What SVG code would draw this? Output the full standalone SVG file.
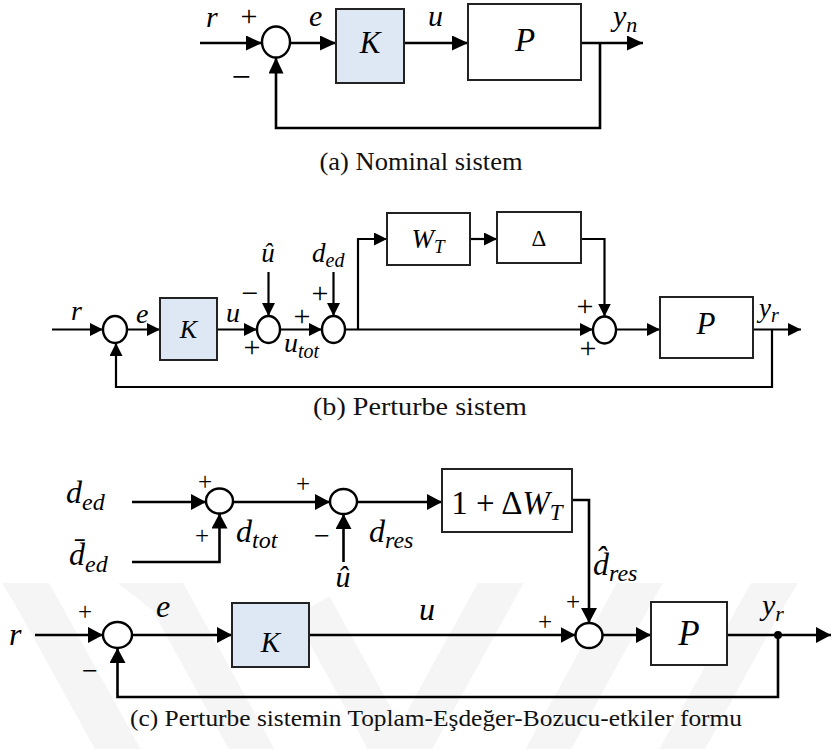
<svg xmlns="http://www.w3.org/2000/svg" width="831" height="749" viewBox="0 0 831 749">
  <style>
    .ln { fill: none; stroke: #000; stroke-width: 2.6; }
    .lnb { fill: none; stroke: #000; stroke-width: 2.2; }
    .blk { fill: #fff; stroke: #222; stroke-width: 2; }
    .ctl { fill: #dde8f4; stroke: #222; stroke-width: 2; }
    .sum { fill: #fff; stroke: #000; stroke-width: 2.4; }
    .m { font-family: "Liberation Serif", "DejaVu Serif", serif; font-style: italic; fill: #000; }
    .up { font-family: "Liberation Serif", "DejaVu Serif", serif; font-style: normal; fill: #000; }
    .sg { font-family: "Liberation Serif", "DejaVu Serif", serif; fill: #000; text-anchor: middle; }
    .cap { font-family: "Liberation Serif", "Times New Roman", serif; fill: #111; }
    .wm { fill: none; stroke: #f5f5f5; stroke-width: 40; }
  </style>
  <defs>
    <marker id="arA" viewBox="0 0 10 10" refX="10" refY="5" markerWidth="16" markerHeight="15" markerUnits="userSpaceOnUse" orient="auto" preserveAspectRatio="none">
      <path d="M0,0 L10,5 L0,10 z" fill="#000"/>
    </marker>
    <marker id="arB" viewBox="0 0 10 10" refX="10" refY="5" markerWidth="13" markerHeight="13" markerUnits="userSpaceOnUse" orient="auto" preserveAspectRatio="none">
      <path d="M0,0 L10,5 L0,10 z" fill="#000"/>
    </marker>
    <marker id="arC" viewBox="0 0 10 10" refX="10" refY="5" markerWidth="15" markerHeight="16" markerUnits="userSpaceOnUse" orient="auto" preserveAspectRatio="none">
      <path d="M0,0 L10,5 L0,10 z" fill="#000"/>
    </marker>
    <clipPath id="wmClip">
      <rect x="0" y="583" width="831" height="166"/>
    </clipPath>
  </defs>

  <rect width="831" height="749" fill="#fff"/>

  <!-- faint chevron watermark behind the lower diagram -->
  <g id="watermark" clip-path="url(#wmClip)">
    <polyline class="wm" points="312,606 400,766 488,606 581,437"/>
    <polyline class="wm" points="20,480 168,597 400,1019 632,597 780,330"/>
    <polyline class="wm" points="-100,380 34,597 400,1262 766,597 900,380"/>
  </g>

  <!-- ===================== (a) nominal loop ===================== -->
  <g id="a-connectors">
    <line class="ln" x1="200" y1="43" x2="262" y2="43" marker-end="url(#arA)"/>
    <line class="ln" x1="290" y1="43" x2="336" y2="43" marker-end="url(#arA)"/>
    <line class="ln" x1="404" y1="43" x2="468" y2="43" marker-end="url(#arA)"/>
    <line class="ln" x1="581" y1="43" x2="643" y2="43" marker-end="url(#arA)"/>
    <path class="ln" d="M600,43 V128 H276 V57.5" marker-end="url(#arA)"/>
  </g>
  <g id="a-sum">
    <ellipse class="sum" cx="276" cy="42" rx="14" ry="15.5"/>
    <text class="sg" x="249" y="26" font-size="30">+</text>
    <text class="sg" x="241" y="88" font-size="34">−</text>
  </g>
  <g id="a-K">
    <rect class="ctl" x="336" y="9" width="68" height="74"/>
    <text class="m" x="370" y="53" font-size="31" text-anchor="middle">K</text>
  </g>
  <g id="a-P">
    <rect class="blk" x="468" y="4" width="113" height="76"/>
    <text class="m" x="525" y="51" font-size="33" text-anchor="middle">P</text>
  </g>
  <g id="a-labels">
    <text class="m" x="206" y="27" font-size="30">r</text>
    <text class="m" x="309" y="26" font-size="30">e</text>
    <text class="m" x="428" y="26" font-size="30">u</text>
    <text class="m" x="613" y="26" font-size="30">y<tspan font-size="22" dy="6">n</tspan></text>
  </g>
  <text class="cap" x="421" y="170" font-size="26" text-anchor="middle" textLength="203" lengthAdjust="spacingAndGlyphs">(a) Nominal sistem</text>

  <!-- ===================== (b) perturbed loop ===================== -->
  <g id="b-connectors">
    <line class="lnb" x1="52" y1="329.5" x2="103" y2="329.5" marker-end="url(#arB)"/>
    <line class="lnb" x1="127" y1="329.5" x2="160" y2="329.5" marker-end="url(#arB)"/>
    <line class="lnb" x1="217" y1="329.5" x2="257" y2="329.5" marker-end="url(#arB)"/>
    <line class="lnb" x1="268.5" y1="272" x2="268.5" y2="316" marker-end="url(#arB)"/>
    <line class="lnb" x1="280" y1="329.5" x2="322" y2="329.5" marker-end="url(#arB)"/>
    <line class="lnb" x1="333.5" y1="272" x2="333.5" y2="316" marker-end="url(#arB)"/>
    <line class="lnb" x1="345" y1="329.5" x2="593" y2="329.5" marker-end="url(#arB)"/>
    <path class="lnb" d="M358,329.5 V239 H387" marker-end="url(#arB)"/>
    <line class="lnb" x1="470" y1="239" x2="497" y2="239" marker-end="url(#arB)"/>
    <path class="lnb" d="M581,239 H604.5 V316.5" marker-end="url(#arB)"/>
    <line class="lnb" x1="616" y1="329.5" x2="660" y2="329.5" marker-end="url(#arB)"/>
    <line class="lnb" x1="753" y1="329.5" x2="801" y2="329.5" marker-end="url(#arB)"/>
    <path class="lnb" d="M772,329.5 V387 H116 V343" marker-end="url(#arB)"/>
  </g>
  <g id="b-sum1">
    <ellipse class="sum" cx="115" cy="329.5" rx="12" ry="13.5"/>
  </g>
  <g id="b-K">
    <rect class="ctl" x="160" y="298" width="57" height="62"/>
    <text class="m" x="188.5" y="338" font-size="26" text-anchor="middle">K</text>
  </g>
  <g id="b-sum2">
    <ellipse class="sum" cx="268.5" cy="329.5" rx="11.5" ry="13.5"/>
    <text class="sg" x="250" y="303" font-size="30">−</text>
    <text class="sg" x="252" y="357" font-size="30">+</text>
  </g>
  <g id="b-sum3">
    <ellipse class="sum" cx="333.5" cy="329.5" rx="11.5" ry="13.5"/>
    <text class="sg" x="302" y="326" font-size="30">+</text>
    <text class="sg" x="320" y="303" font-size="30">+</text>
  </g>
  <g id="b-WT">
    <rect class="blk" x="387" y="213" width="83" height="52"/>
    <text class="m" x="428" y="248" font-size="27" text-anchor="middle">W<tspan font-size="19" dy="5">T</tspan></text>
  </g>
  <g id="b-Delta">
    <rect class="blk" x="497" y="212" width="84" height="51"/>
    <text class="up" x="539" y="246" font-size="23" text-anchor="middle">Δ</text>
  </g>
  <g id="b-sum4">
    <ellipse class="sum" cx="604.5" cy="330" rx="11.5" ry="13.5"/>
    <text class="sg" x="585" y="316" font-size="30">+</text>
    <text class="sg" x="588" y="358" font-size="30">+</text>
  </g>
  <g id="b-P">
    <rect class="blk" x="660" y="297" width="93" height="61"/>
    <text class="m" x="706" y="334" font-size="31" text-anchor="middle">P</text>
  </g>
  <g id="b-labels">
    <text class="m" x="71" y="320" font-size="28">r</text>
    <text class="m" x="136" y="323" font-size="28">e</text>
    <text class="m" x="226" y="322" font-size="28">u</text>
    <text class="m" x="268" y="262" font-size="27" text-anchor="middle">û</text>
    <text class="m" x="312" y="262" font-size="27">d<tspan font-size="20" dy="5">ed</tspan></text>
    <text class="m" x="284" y="352" font-size="28">u<tspan font-size="20" dy="6">tot</tspan></text>
    <text class="m" x="759" y="317" font-size="27">y<tspan font-size="20" dy="5">r</tspan></text>
  </g>
  <text class="cap" x="420" y="415" font-size="26" text-anchor="middle" textLength="214" lengthAdjust="spacingAndGlyphs">(b) Perturbe sistem</text>

  <!-- ===================== (c) total equivalent disturbance form ===================== -->
  <g id="c-connectors">
    <line class="ln" x1="132" y1="502" x2="206" y2="502" marker-end="url(#arC)"/>
    <path class="ln" d="M132,562 H219.5 V513.5" marker-end="url(#arC)"/>
    <line class="ln" x1="233" y1="502" x2="330" y2="502" marker-end="url(#arC)"/>
    <line class="ln" x1="343.5" y1="562" x2="343.5" y2="514" marker-end="url(#arC)"/>
    <line class="ln" x1="357" y1="502" x2="442" y2="502" marker-end="url(#arC)"/>
    <path class="ln" d="M572,500 H589 V623" marker-end="url(#arC)"/>
    <line class="ln" x1="35" y1="635" x2="103" y2="635" marker-end="url(#arC)"/>
    <line class="ln" x1="132" y1="635" x2="232" y2="635" marker-end="url(#arC)"/>
    <line class="ln" x1="309" y1="635" x2="575.5" y2="635" marker-end="url(#arC)"/>
    <line class="ln" x1="602.5" y1="635" x2="651" y2="635" marker-end="url(#arC)"/>
    <line class="ln" x1="727" y1="635" x2="831" y2="635" marker-end="url(#arC)"/>
    <path class="ln" d="M778,635 V697 H117.5 V648" marker-end="url(#arC)"/>
    <circle cx="778" cy="635" r="4" fill="#000"/>
  </g>
  <g id="c-sumA">
    <ellipse class="sum" cx="219.5" cy="501" rx="13.5" ry="12.5"/>
    <text class="sg" x="205" y="490" font-size="25">+</text>
    <text class="sg" x="202" y="544" font-size="25">+</text>
  </g>
  <g id="c-sumB">
    <ellipse class="sum" cx="343.5" cy="501.5" rx="13.5" ry="12.5"/>
    <text class="sg" x="303" y="492" font-size="25">+</text>
    <text class="sg" x="322" y="545" font-size="28">−</text>
  </g>
  <g id="c-unc">
    <rect class="blk" x="442" y="469" width="130" height="63"/>
    <text class="up" x="507" y="514" font-size="33" text-anchor="middle">1 + Δ<tspan class="m">W</tspan><tspan class="m" font-size="23" dy="6">T</tspan></text>
  </g>
  <g id="c-sumC">
    <ellipse class="sum" cx="589" cy="635.5" rx="13.5" ry="12.5"/>
    <text class="sg" x="573" y="610" font-size="25">+</text>
    <text class="sg" x="545" y="630" font-size="25">+</text>
  </g>
  <g id="c-sumD">
    <ellipse class="sum" cx="117.5" cy="635" rx="14.5" ry="13"/>
    <text class="sg" x="85" y="620" font-size="25">+</text>
    <text class="sg" x="90" y="680" font-size="28">−</text>
  </g>
  <g id="c-K">
    <rect class="ctl" x="232" y="603" width="77" height="64"/>
    <text class="m" x="270.5" y="652" font-size="29" text-anchor="middle">K</text>
  </g>
  <g id="c-P">
    <rect class="blk" x="651" y="602" width="76" height="63"/>
    <text class="m" x="689" y="645" font-size="35" text-anchor="middle">P</text>
  </g>
  <g id="c-labels">
    <text class="m" x="66" y="503" font-size="32">d<tspan font-size="24" dy="7">ed</tspan></text>
    <text class="m" x="69" y="565" font-size="32">d̄<tspan font-size="24" dy="7">ed</tspan></text>
    <text class="m" x="236" y="542" font-size="32">d<tspan font-size="24" dy="6">tot</tspan></text>
    <text class="m" x="369" y="542" font-size="32">d<tspan font-size="24" dy="6">res</tspan></text>
    <text class="m" x="343" y="587" font-size="30" text-anchor="middle">û</text>
    <text class="m" x="593" y="575" font-size="32">d̂<tspan font-size="24" dy="6">res</tspan></text>
    <text class="m" x="9" y="645" font-size="32">r</text>
    <text class="m" x="156" y="617" font-size="32">e</text>
    <text class="m" x="419" y="620" font-size="32">u</text>
    <text class="m" x="762" y="615" font-size="30">y<tspan font-size="22" dy="6">r</tspan></text>
  </g>
  <text class="cap" x="130" y="726" font-size="24" textLength="612" lengthAdjust="spacingAndGlyphs">(c) Perturbe sistemin Toplam-Eşdeğer-Bozucu-etkiler formu</text>
</svg>
